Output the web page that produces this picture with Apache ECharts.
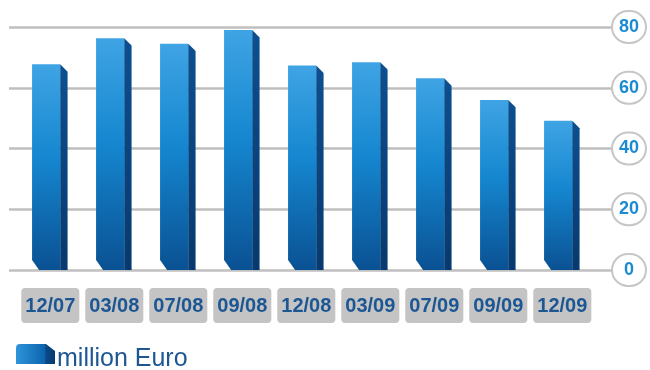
<!DOCTYPE html>
<html>
<head>
<meta charset="utf-8">
<script src="https://cdn.jsdelivr.net/npm/echarts@6/dist/echarts.min.js"></script>
<style>
html,body{margin:0;padding:0;background:#fff;}
#main{width:650px;height:370px;}
</style>
</head>
<body>
<div id="main"></div>
<script>
var categories = ['12/07','03/08','07/08','09/08','12/08','03/09','07/09','09/09','12/09'];
var values = [67.7, 76.3, 74.5, 79.0, 67.3, 68.4, 63.1, 56.0, 49.1];
var yTicks = [0, 20, 40, 60, 80];
var seriesName = 'million Euro';

var chart = echarts.init(document.getElementById('main'), null, {renderer:'canvas'});
var G = echarts.graphic;
var frontGrad = function(){ return new G.LinearGradient(0,0,0,1,[
  {offset:0,color:'#3fa4e4'},{offset:0.45,color:'#1587d0'},{offset:1,color:'#0a5193'}]); };
var sideGrad = function(){ return new G.LinearGradient(0,0,0,1,[
  {offset:0,color:'#0c4f8f'},{offset:1,color:'#063a6f'}]); };

var option = {
  backgroundColor:'#ffffff',
  animation:false,
  textStyle:{fontFamily:'Liberation Sans, Arial, sans-serif'},
  grid:[
    {left:18.3, right:55.7, top:27, bottom:100},
    {left:9, right:35, top:27, bottom:100}
  ],
  xAxis:[
    {type:'category', gridIndex:0, data:categories,
     axisLine:{show:false}, axisTick:{show:false}, splitLine:{show:false},
     axisLabel:{margin:18, interval:0, fontSize:20, fontWeight:'bold', color:'#1d5793',
       backgroundColor:'#c4c4c4', borderRadius:4, padding:[8,4,7,4], lineHeight:20}},
    {type:'value', gridIndex:1, show:false, min:0, max:1}
  ],
  yAxis:[
    {type:'value', gridIndex:0, min:0, max:80, interval:20, show:false},
    {type:'value', gridIndex:1, min:0, max:80, interval:20, position:'right',
     axisLine:{show:false}, axisTick:{show:false},
     splitLine:{show:true, lineStyle:{color:'#bfbfbf', width:2.5}},
     axisLabel:{margin:1, formatter:function(v){return '{c|'+v+'}';},
       rich:{c:{width:32, height:30, lineHeight:30, align:'center', verticalAlign:'middle',
         backgroundColor:'#ffffff', borderColor:'#c6c6c6', borderWidth:2, borderRadius:17,
         color:'#1a8ad2', fontSize:18, fontWeight:'bold'}}}}
  ],
  legend:{
    left:11, top:339, itemWidth:39, itemHeight:30, itemGap:4,
    data:[{name:seriesName, icon:'path://M4,0 L30,0 L39,7 L39,20 L0,20 L0,4 Q0,0 4,0 Z M0,30 L1,30'}],
    textStyle:{fontSize:25, color:'#1d5793', padding:[4,0,0,-3]}
  },
  series:[{
    type:'custom', name:seriesName, xAxisIndex:0, yAxisIndex:0,
    itemStyle:{color:new G.LinearGradient(0,0,1,0,[
      {offset:0,color:'#2f95da'},{offset:0.74,color:'#0c64ad'},{offset:0.76,color:'#0a4a88'},{offset:1,color:'#063a6f'}])},
    data: categories.map(function(c,i){return [i, values[i]];}),
    renderItem:function(params, api){
      var top = api.coord([api.value(0), api.value(1)]);
      var base = api.coord([api.value(0), 0]);
      var bw = api.size([1,0])[0];
      var c = top[0], yt = top[1], yb = base[1];
      var fl = c - bw*0.285, fr = c + bw*0.155, sr = c + bw*0.27;
      var d = sr - fr;
      return {type:'group', children:[
        {type:'polygon', shape:{points:[[fl,yt],[fr,yt],[fr,yb],[fl+7,yb],[fl,yb-10]]},
         style:{fill:frontGrad()}},
        {type:'polygon', shape:{points:[[fr,yt],[sr,yt+d],[sr,yb],[fr,yb]]},
         style:{fill:sideGrad()}}
      ]};
    }
  }]
};
chart.setOption(option);
</script>
</body>
</html>
